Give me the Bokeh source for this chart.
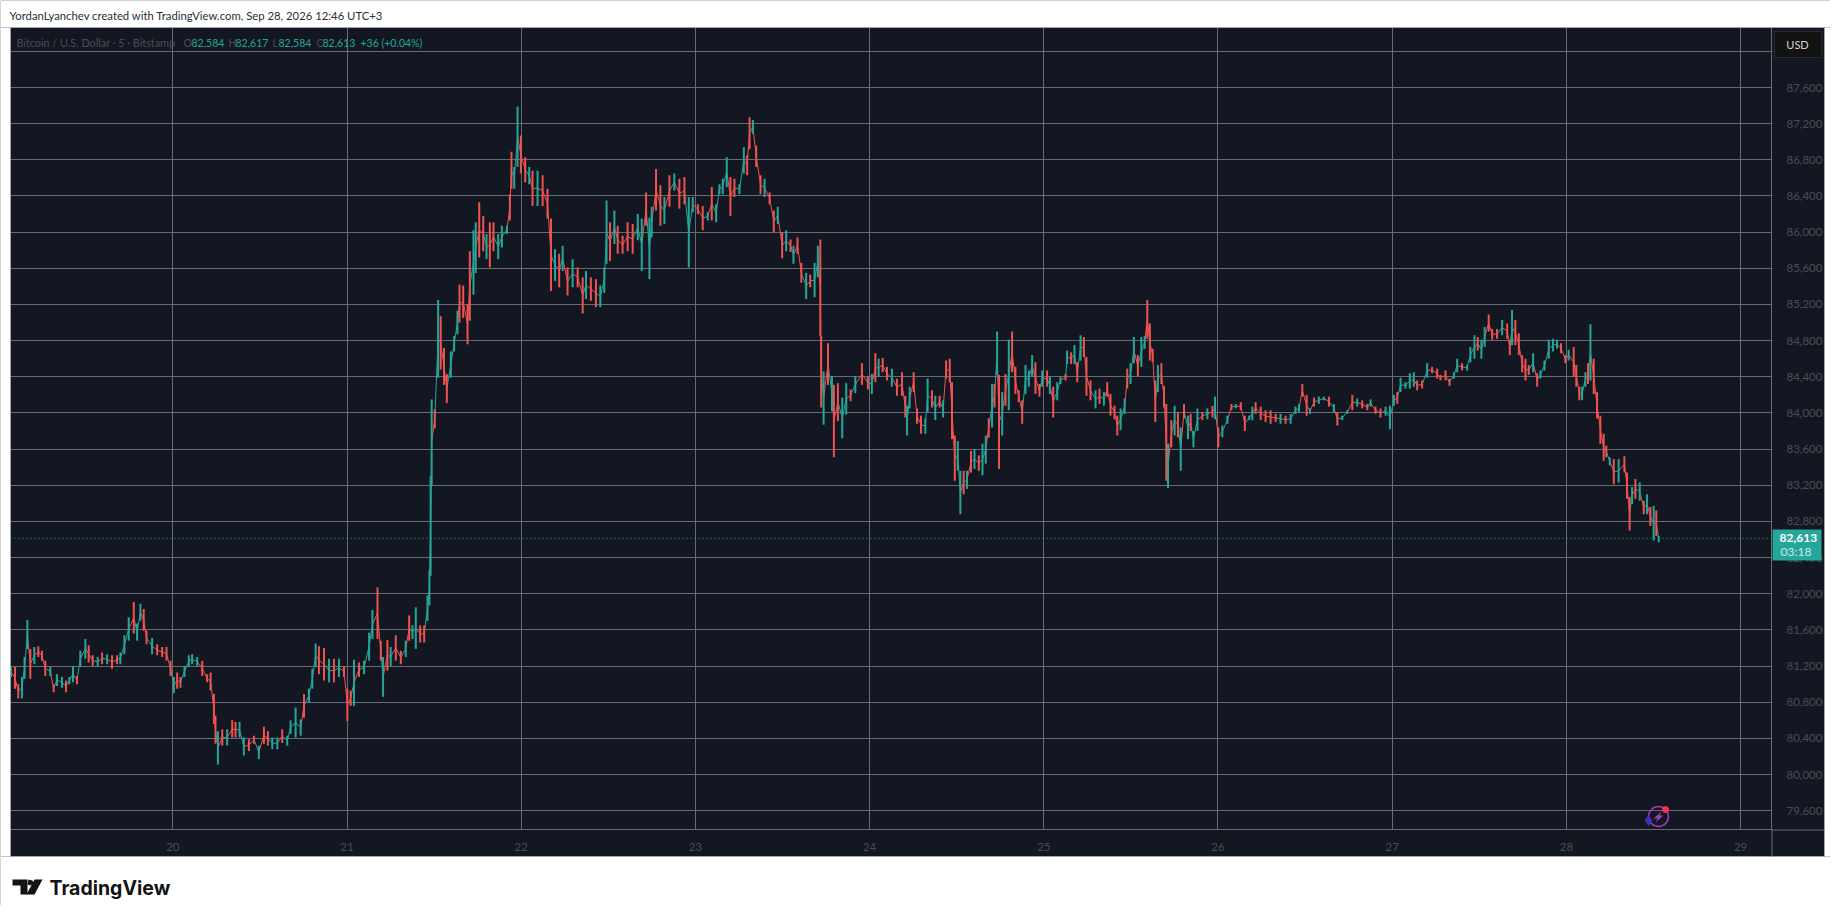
#!/usr/bin/env python3
"""
BTC/USD five minute chart, dark TradingView style, drawn with Bokeh.
Bars are read off the picture, each one is a low-high range with a direction.
"""

from bokeh.core.properties import value
from bokeh.embed import file_html
from bokeh.models import (
    ColumnDataSource, FixedTicker, NumeralTickFormatter, Range1d, Span,
)
from bokeh.plotting import figure
from bokeh.resources import INLINE

BG = "#131722"
GRID = "#686b75"
EDGE = "#a3a6af"
DIM = "#4a4d58"
UP = "#26a69a"
DOWN = "#ef5350"
FONT = "Lato"

WIDTH = 1830
HEIGHT = 905

day_ticks = [20, 21, 22, 23, 24, 25, 26, 27, 28, 29]
price_ticks = [79600, 80000, 80400, 80800, 81200, 81600, 82000, 82400, 82800,
               83200, 83600, 84000, 84400, 84800, 85200, 85600, 86000, 86400,
               86800, 87200, 87600, 88000]
last_price = 82613

bar_time = [
    19.071, 19.094, 19.113, 19.134, 19.149, 19.165, 19.182, 19.205, 19.228, 19.249,
    19.268, 19.297, 19.316, 19.335, 19.364, 19.387, 19.406, 19.427, 19.450, 19.469,
    19.498, 19.517, 19.540, 19.569, 19.594, 19.623, 19.651, 19.680, 19.699, 19.722,
    19.747, 19.776, 19.795, 19.814, 19.833, 19.849, 19.881, 19.910, 19.939, 19.964,
    19.987, 20.006, 20.025, 20.044, 20.067, 20.092, 20.111, 20.140, 20.169, 20.197,
    20.217, 20.236, 20.245, 20.259, 20.284, 20.312, 20.341, 20.360, 20.383, 20.408,
    20.437, 20.466, 20.494, 20.523, 20.546, 20.571, 20.600, 20.628, 20.657, 20.676,
    20.705, 20.734, 20.753, 20.782, 20.801, 20.820, 20.839, 20.868, 20.897, 20.925,
    20.954, 20.983, 21.002, 21.021, 21.040, 21.069, 21.098, 21.127, 21.146, 21.175,
    21.194, 21.207, 21.232, 21.251, 21.280, 21.309, 21.337, 21.357, 21.376, 21.395,
    21.420, 21.443, 21.462, 21.473, 21.480, 21.486, 21.504, 21.523, 21.538, 21.557,
    21.573, 21.596, 21.615, 21.634, 21.646, 21.667, 21.692, 21.705, 21.726, 21.739,
    21.759, 21.782, 21.801, 21.820, 21.841, 21.868, 21.889, 21.918, 21.935, 21.944,
    21.960, 21.979, 21.998, 22.023, 22.046, 22.065, 22.094, 22.123, 22.151, 22.171,
    22.194, 22.218, 22.238, 22.266, 22.295, 22.324, 22.353, 22.372, 22.400, 22.429,
    22.454, 22.477, 22.490, 22.510, 22.535, 22.554, 22.582, 22.611, 22.640, 22.669,
    22.692, 22.717, 22.736, 22.749, 22.774, 22.799, 22.822, 22.851, 22.879, 22.908,
    22.937, 22.962, 22.985, 23.014, 23.042, 23.071, 23.094, 23.119, 23.138, 23.157,
    23.180, 23.201, 23.224, 23.253, 23.278, 23.297, 23.311, 23.330, 23.349, 23.374,
    23.397, 23.426, 23.450, 23.473, 23.498, 23.521, 23.546, 23.563, 23.586, 23.608,
    23.636, 23.659, 23.684, 23.703, 23.717, 23.722, 23.736, 23.761, 23.784, 23.795,
    23.818, 23.843, 23.866, 23.891, 23.918, 23.956, 23.990, 24.013, 24.033, 24.052,
    24.075, 24.100, 24.128, 24.157, 24.186, 24.205, 24.215, 24.230, 24.253, 24.272,
    24.295, 24.320, 24.333, 24.358, 24.377, 24.402, 24.422, 24.439, 24.460, 24.473,
    24.489, 24.506, 24.521, 24.540, 24.559, 24.582, 24.602, 24.627, 24.648, 24.667,
    24.684, 24.703, 24.717, 24.732, 24.743, 24.761, 24.780, 24.799, 24.818, 24.837,
    24.856, 24.876, 24.895, 24.914, 24.933, 24.952, 24.975, 24.991, 25.019, 25.035,
    25.054, 25.077, 25.096, 25.125, 25.134, 25.157, 25.176, 25.192, 25.211, 25.230,
    25.245, 25.268, 25.297, 25.320, 25.345, 25.364, 25.383, 25.406, 25.422, 25.441,
    25.464, 25.479, 25.498, 25.517, 25.540, 25.560, 25.579, 25.594, 25.609, 25.625,
    25.640, 25.655, 25.675, 25.690, 25.703, 25.713, 25.732, 25.751, 25.770, 25.786,
    25.805, 25.828, 25.843, 25.859, 25.882, 25.910, 25.939, 25.968, 25.983, 26.002,
    26.025, 26.054, 26.077, 26.102, 26.131, 26.154, 26.179, 26.197, 26.216, 26.245,
    26.273, 26.302, 26.331, 26.359, 26.388, 26.417, 26.445, 26.465, 26.484, 26.509,
    26.528, 26.551, 26.579, 26.608, 26.637, 26.665, 26.685, 26.713, 26.742, 26.771,
    26.799, 26.828, 26.857, 26.876, 26.904, 26.933, 26.962, 26.987, 27.010, 27.029,
    27.048, 27.076, 27.101, 27.124, 27.143, 27.172, 27.201, 27.229, 27.258, 27.277,
    27.306, 27.329, 27.354, 27.373, 27.401, 27.430, 27.449, 27.472, 27.491, 27.512,
    27.531, 27.554, 27.574, 27.602, 27.631, 27.660, 27.675, 27.688, 27.707, 27.727,
    27.746, 27.765, 27.784, 27.809, 27.832, 27.851, 27.874, 27.899, 27.923, 27.946,
    27.969, 27.994, 28.013, 28.042, 28.057, 28.074, 28.090, 28.109, 28.124, 28.138,
    28.157, 28.176, 28.195, 28.214, 28.229, 28.249, 28.272, 28.300, 28.333, 28.348,
    28.363, 28.377, 28.396, 28.421, 28.444, 28.463, 28.482, 28.501, 28.516, 28.530,
]

bar_high = [
    81190, 81190, 81000, 81080, 81300, 81710, 81390, 81410, 81420, 81370,
    81260, 81190, 81000, 81110, 81080, 81040, 81080, 81200, 81090, 81370,
    81500, 81430, 81320, 81300, 81350, 81330, 81320, 81320, 81350, 81540,
    81740, 81910, 81670, 81890, 81830, 81590, 81510, 81440, 81410, 81410,
    81260, 81080, 81130, 81080, 81200, 81320, 81330, 81300, 81260, 81110,
    81130, 80890, 80650, 80480, 80500, 80500, 80600, 80580, 80580, 80410,
    80390, 80430, 80320, 80530, 80480, 80410, 80410, 80500, 80430, 80600,
    80740, 80610, 80890, 80950, 81170, 81450, 81420, 81400, 81280, 81280,
    81280, 81200, 80950, 80930, 81270, 81240, 81260, 81570, 81820, 82070,
    81480, 81300, 81490, 81410, 81540, 81370, 81480, 81760, 81650, 81850,
    81650, 81650, 81980, 82260, 83300, 84150, 84040, 85250, 85070, 84720,
    84430, 84680, 84850, 85130, 85420, 85410, 85200, 85790, 86020, 86110,
    86330, 86180, 85980, 86110, 86110, 85980, 86070, 86070, 86420, 86890,
    86720, 87390, 87070, 86830, 86720, 86680, 86680, 86630, 86480, 86150,
    85810, 85760, 85850, 85610, 85700, 85610, 85500, 85570, 85500, 85480,
    85410, 85610, 86350, 86110, 86240, 86070, 85960, 86110, 86090, 86200,
    86150, 86440, 86160, 86280, 86700, 86520, 86390, 86630, 86650, 86590,
    86610, 86390, 86390, 86310, 86290, 86220, 86500, 86310, 86530, 86590,
    86830, 86610, 86590, 86530, 86940, 86850, 87270, 87240, 86960, 86630,
    86590, 86440, 86240, 86280, 86000, 86020, 85920, 85850, 85940, 85660,
    85550, 85530, 85660, 85850, 85920, 84850, 84460, 84770, 84410, 84310,
    84330, 84170, 84330, 84260, 84410, 84550, 84410, 84430, 84660, 84600,
    84610, 84510, 84490, 84380, 84450, 84190, 84080, 84290, 84450, 84050,
    83970, 83940, 84380, 84250, 84190, 84190, 84140, 84580, 84600, 84340,
    83750, 83690, 83360, 83360, 83360, 83580, 83600, 83530, 83660, 83750,
    83940, 84320, 84320, 84900, 84420, 84230, 84430, 84810, 84900, 84510,
    84250, 84140, 84530, 84470, 84640, 84560, 84320, 84470, 84470, 84400,
    84290, 84340, 84400, 84430, 84690, 84670, 84750, 84560, 84860, 84840,
    84620, 84360, 84250, 84270, 84230, 84340, 84210, 84080, 83970, 84050,
    84160, 84490, 84550, 84840, 84640, 84840, 84850, 85250, 84990, 84710,
    84360, 84530, 84550, 84300, 84100, 83660, 83920, 84080, 84010, 83840,
    84100, 83970, 83990, 83800, 84050, 84010, 84050, 84080, 84180, 83840,
    83860, 83970, 84100, 84100, 84120, 83970, 83970, 84070, 84120, 84070,
    84030, 84030, 83990, 83990, 83970, 83990, 84070, 84100, 84320, 84200,
    84050, 84170, 84180, 84180, 84180, 84100, 84010, 83970, 84030, 84200,
    84160, 84140, 84100, 84150, 84070, 84050, 84070, 84080, 84200, 84230,
    84390, 84340, 84440, 84450, 84360, 84360, 84550, 84510, 84490, 84420,
    84470, 84380, 84450, 84600, 84550, 84530, 84730, 84860, 84840, 84810,
    84950, 85090, 84930, 84930, 85030, 84990, 84810, 85140, 85030, 84880,
    84640, 84600, 84530, 84660, 84440, 84470, 84580, 84810, 84820, 84810,
    84770, 84640, 84700, 84730, 84530, 84290, 84290, 84450, 84550, 84980,
    84600, 84230, 83970, 83770, 83640, 83510, 83490, 83490, 83520, 83340,
    83070, 83180, 83270, 83230, 83030, 83100, 82960, 82970, 82920, 82640,
]

bar_low = [
    81080, 80950, 80840, 80840, 81060, 81390, 81060, 81220, 81300, 81260,
    81090, 81090, 80910, 80980, 80960, 80910, 81000, 81020, 81000, 81190,
    81280, 81240, 81200, 81190, 81220, 81220, 81170, 81220, 81220, 81330,
    81480, 81560, 81480, 81700, 81590, 81440, 81330, 81320, 81300, 81260,
    81090, 80900, 80950, 80960, 81080, 81190, 81220, 81200, 81090, 81020,
    80930, 80560, 80340, 80110, 80320, 80320, 80410, 80410, 80410, 80210,
    80260, 80340, 80170, 80340, 80320, 80280, 80280, 80350, 80320, 80450,
    80410, 80430, 80630, 80800, 80950, 81190, 81110, 81040, 81020, 81020,
    81080, 81080, 80590, 80760, 80760, 81080, 81110, 81260, 81500, 81500,
    81260, 80860, 81150, 81200, 81260, 81220, 81300, 81480, 81500, 81390,
    81460, 81460, 81700, 81870, 82200, 83200, 83830, 84390, 84480, 84310,
    84110, 84390, 84680, 84870, 85000, 85050, 84760, 85020, 85310, 85550,
    85720, 85790, 85700, 85610, 85790, 85700, 85830, 85980, 86130, 86480,
    86480, 86720, 86650, 86550, 86530, 86290, 86290, 86290, 86150, 85350,
    85460, 85390, 85570, 85300, 85390, 85390, 85100, 85260, 85240, 85170,
    85170, 85330, 85650, 85680, 85870, 85760, 85760, 85790, 85760, 85910,
    85570, 86070, 85480, 85940, 86240, 86070, 86090, 86280, 86460, 86260,
    86310, 85610, 86220, 86200, 86020, 86130, 86130, 86110, 86420, 86420,
    86500, 86180, 86390, 86420, 86650, 86630, 86920, 87090, 86720, 86420,
    86390, 86310, 86000, 86090, 85710, 85790, 85780, 85650, 85760, 85440,
    85260, 85390, 85280, 85500, 84850, 84060, 83870, 84310, 84020, 83510,
    83910, 83720, 83980, 84130, 84220, 84310, 84260, 84210, 84340, 84400,
    84450, 84360, 84290, 84190, 84190, 83950, 83750, 84050, 84230, 83880,
    83770, 83770, 84010, 84060, 83920, 84060, 83950, 84380, 84340, 83710,
    83250, 83360, 82880, 83100, 83160, 83340, 83380, 83360, 83310, 83440,
    83730, 83840, 84060, 84420, 83380, 83750, 84080, 84030, 84450, 84210,
    84120, 83880, 84210, 84290, 84400, 84210, 84180, 84290, 84290, 84210,
    83950, 84140, 84320, 84360, 84540, 84540, 84540, 84340, 84580, 84620,
    84190, 84140, 84050, 84100, 84080, 84180, 83970, 83930, 83750, 83810,
    83990, 84270, 84320, 84550, 84400, 84510, 84710, 84820, 84580, 84560,
    83900, 84230, 84320, 84060, 83250, 83170, 83620, 83750, 83730, 83360,
    83940, 83710, 83800, 83620, 83800, 83920, 83930, 83950, 83930, 83620,
    83730, 83880, 84030, 84050, 84030, 83800, 83920, 83920, 83990, 83920,
    83900, 83880, 83900, 83880, 83880, 83880, 83990, 84010, 84180, 83970,
    83990, 84070, 84100, 84140, 84070, 84010, 83860, 83920, 83990, 84030,
    84070, 84050, 84030, 84070, 83990, 83950, 83970, 83820, 84080, 84100,
    84230, 84270, 84270, 84290, 84250, 84270, 84390, 84440, 84380, 84360,
    84360, 84300, 84380, 84450, 84470, 84470, 84560, 84600, 84690, 84600,
    84730, 84900, 84810, 84820, 84860, 84820, 84640, 84750, 84750, 84640,
    84450, 84360, 84420, 84450, 84290, 84380, 84470, 84600, 84680, 84710,
    84660, 84550, 84580, 84400, 84290, 84140, 84140, 84290, 84320, 84360,
    84210, 83940, 83660, 83470, 83510, 83420, 83210, 83230, 83340, 83050,
    82700, 82990, 83050, 83030, 82880, 82880, 82750, 82590, 82640, 82570,
]

# 1 = bar closed up, 0 = bar closed down
bar_up = [
    1, 0, 0, 1, 1, 1, 0, 1, 0, 0,
    0, 1, 0, 1, 1, 0, 1, 1, 0, 1,
    1, 0, 0, 1, 0, 1, 0, 0, 1, 1,
    1, 0, 1, 1, 0, 0, 1, 0, 0, 0,
    0, 1, 0, 0, 1, 1, 1, 1, 0, 0,
    0, 0, 0, 1, 0, 1, 0, 0, 1, 1,
    0, 0, 1, 0, 0, 1, 1, 0, 1, 1,
    1, 1, 0, 1, 1, 1, 0, 0, 1, 0,
    1, 0, 0, 0, 1, 0, 1, 1, 1, 0,
    0, 1, 0, 1, 0, 0, 1, 0, 1, 1,
    0, 0, 1, 1, 1, 1, 0, 1, 0, 0,
    0, 1, 1, 1, 0, 0, 0, 0, 1, 1,
    0, 0, 1, 0, 0, 1, 1, 1, 0, 0,
    1, 1, 0, 0, 1, 0, 1, 0, 0, 0,
    1, 0, 1, 0, 1, 0, 0, 1, 0, 0,
    1, 1, 1, 0, 1, 0, 0, 0, 0, 1,
    1, 0, 1, 1, 0, 0, 1, 0, 1, 0,
    0, 1, 1, 0, 0, 1, 0, 1, 1, 1,
    1, 0, 0, 1, 1, 0, 0, 1, 0, 0,
    1, 0, 0, 1, 0, 1, 0, 1, 0, 0,
    1, 0, 1, 1, 0, 0, 1, 0, 1, 0,
    0, 1, 1, 0, 1, 0, 0, 1, 0, 1,
    0, 0, 1, 0, 0, 0, 1, 1, 0, 0,
    0, 1, 1, 0, 1, 0, 1, 0, 0, 0,
    0, 1, 1, 0, 1, 0, 1, 0, 1, 1,
    0, 1, 0, 1, 0, 1, 0, 1, 0, 0,
    0, 0, 1, 1, 1, 0, 0, 1, 0, 1,
    0, 1, 1, 0, 1, 0, 1, 0, 1, 0,
    0, 0, 1, 0, 1, 0, 0, 0, 0, 1,
    1, 0, 1, 1, 0, 1, 1, 0, 0, 0,
    0, 1, 0, 0, 0, 1, 0, 1, 0, 1,
    0, 1, 0, 1, 1, 0, 1, 0, 1, 0,
    1, 1, 0, 1, 0, 0, 1, 1, 0, 0,
    0, 0, 0, 1, 0, 1, 1, 1, 0, 0,
    1, 0, 1, 1, 0, 1, 0, 1, 1, 0,
    1, 0, 0, 1, 0, 0, 1, 1, 1, 0,
    1, 1, 1, 1, 0, 0, 1, 0, 0, 0,
    0, 0, 1, 1, 0, 1, 1, 1, 0, 1,
    1, 0, 0, 0, 1, 0, 0, 1, 0, 0,
    0, 0, 0, 1, 0, 1, 1, 1, 1, 1,
    0, 0, 1, 0, 0, 0, 1, 1, 0, 1,
    0, 0, 0, 0, 0, 1, 0, 1, 0, 0,
    0, 1, 0, 1, 0, 1, 0, 1, 0, 1,
]

# Main chart: the frame is the candle pane, the axes take the strips next to it
p = figure(
    width=WIDTH, height=HEIGHT,
    x_range=Range1d(19.0683, 29.1774), y_range=Range1d(79392, 88264),
    y_axis_location="right",
    output_backend="svg", toolbar_location=None,
    background_fill_color=BG, border_fill_color=BG,
    min_border_left=10, min_border_right=WIDTH - 1771,
    min_border_top=27, min_border_bottom=HEIGHT - 829,
)
p.outline_line_color = None

for axis in (p.xaxis[0], p.yaxis[0]):
    axis.axis_line_color = GRID
    axis.axis_line_width = 1
    axis.major_tick_line_color = None
    axis.minor_tick_line_color = None
    axis.major_label_text_color = DIM
    axis.major_label_text_font = FONT
    axis.major_label_text_font_size = "11.5px"

p.xaxis[0].ticker = FixedTicker(ticks=day_ticks)
p.xaxis[0].formatter = NumeralTickFormatter(format="0")
p.xaxis[0].major_label_standoff = 7
p.yaxis[0].ticker = FixedTicker(ticks=price_ticks)
p.yaxis[0].formatter = NumeralTickFormatter(format="0,0")
p.yaxis[0].major_label_standoff = 9
p.yaxis[0].major_label_overrides = {88000: ""}

p.xgrid[0].grid_line_color = GRID
p.ygrid[0].grid_line_color = GRID
p.xgrid[0].grid_line_width = 1
p.ygrid[0].grid_line_width = 1

bar_color = [UP if up else DOWN for up in bar_up]
bar_mid = [(hi + lo) / 2 for hi, lo in zip(bar_high, bar_low)]

# Thin links between the bars so that the trace stays closed like the 5 minute one
p.segment(x0=bar_time[:-1], y0=bar_mid[:-1], x1=bar_time[1:], y1=bar_mid[1:],
          line_color=bar_color[1:], line_width=1)

source = ColumnDataSource(data=dict(
    t=bar_time, high=bar_high, low=bar_low, color=bar_color,
))
p.segment(x0="t", y0="low", x1="t", y1="high", line_color="color", line_width=2,
          source=source)

p.add_layout(Span(location=last_price, dimension="width", line_color=UP,
                  line_dash="1 3", line_width=1))

# Second transparent figure on top, its scales are page pixels. It holds what
# falls outside of the main frame: white page, header, badges and the logo.
# A separate root, in a column Bokeh would line up the frames of the two figures.
deco = figure(
    width=WIDTH, height=HEIGHT,
    x_range=Range1d(0, WIDTH), y_range=Range1d(HEIGHT, 0),
    x_axis_type=None, y_axis_type=None,
    output_backend="svg", toolbar_location=None,
    background_fill_color=None, border_fill_color=None,
    min_border=0,
)
deco.outline_line_color = None
deco.grid.visible = False
deco.styles = {"position": "absolute", "left": "0px", "top": "0px"}


def add_box(left, top, right, bottom, fill, line=None):
    """Rectangle in page pixels."""
    deco.quad(left=[left], right=[right], top=[top], bottom=[bottom],
              fill_color=fill, line_color=line, line_width=1)


def add_text(x, y, text, color, size="11.3px", style="normal", font=FONT, align="left"):
    """Text in page pixels, centred on y."""
    deco.text(x=[x], y=[y], text=[text], text_color=color, text_font_size=size,
              text_font=value(font), text_font_style=style, text_align=align,
              text_baseline="middle")


def add_poly(points, fill):
    """Filled polygon in page pixels."""
    deco.patch(x=[pt[0] for pt in points], y=[pt[1] for pt in points],
               fill_color=fill, line_color=None)


# White page around the dark pane and the pane's frame line
add_box(0, 0, WIDTH, 27, "white")
add_box(0, 856, WIDTH, HEIGHT, "white")
add_box(0, 27, 10, 856, "white")
add_box(1824, 27, WIDTH, 856, "white")
add_box(10, 27, 1824, 856, None, line=EDGE)
add_box(1771, 829, 1772, 856, GRID)
add_box(1771, 829, 1824, 830, GRID)

# Header and pane legend
add_text(9, 15, "YordanLyanchev created with TradingView.com, Sep 28, 2026 12:46 UTC+3",
         "#2a2e39")
add_text(16, 42, "Bitcoin / U.S. Dollar · 5 · Bitstamp", DIM, size="10.8px")
for letter_x, number_x, letter, number in [(183, 191, "O", "82,584"), (228, 235, "H", "82,617"),
                                           (272, 278, "L", "82,584"), (316, 322, "C", "82,613")]:
    add_text(letter_x, 42, letter, DIM, size="10.5px")
    add_text(number_x, 42, number, UP, size="10.5px")
add_text(360, 42, "+36 (+0.04%)", UP, size="10.5px")

# USD button and the last price tag
add_box(1774, 31, 1821, 57, "#131313", line="#2a2a2e")
add_text(1797, 44, "USD", "#d1d4dc", size="11px", align="center")
add_box(1772, 529, 1821, 560, UP)
add_text(1779, 537, "82,613", "#ffffff", size="12px", style="bold")
add_text(1780, 551, "03:18", "#c8ebe7", size="12px")

# Badge down in the pane
deco.scatter(x=[1658], y=[816], marker="circle", size=20, fill_alpha=0,
             line_color="#9c3fb8", line_width=1.5)
deco.scatter(x=[1665], y=[809], marker="circle", size=6, color="#f23645")
deco.scatter(x=[1648], y=[820], marker="diamond", size=10, color="#4b2db5")
add_poly([(1661, 811), (1653, 818), (1657, 818), (1655, 822), (1663, 815), (1659, 815)],
         "#9c3fb8")

# TradingView logo
add_poly([(12, 879), (27, 879), (27, 894), (20, 894), (20, 885), (12, 885)], "#131313")
add_poly([(34, 879), (42, 879), (34, 894), (26, 894)], "#131313")
add_poly([(28, 879), (32, 880), (33, 883), (30, 885), (27, 884)], "#131313")
add_text(49, 887, "TradingView", "#131313", size="19.5px", style="bold", font="Inter")

open("out.html", "w").write(file_html([p, deco], INLINE))
